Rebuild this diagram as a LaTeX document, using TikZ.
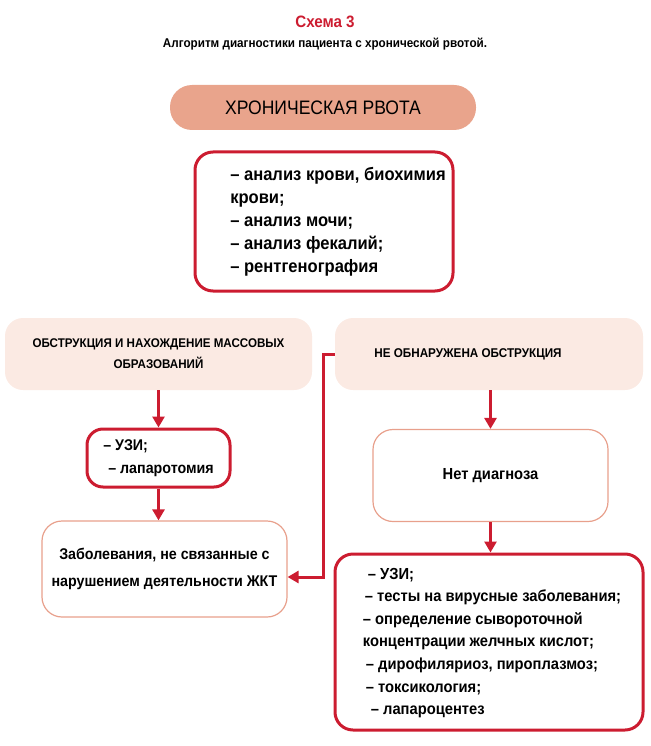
\documentclass[tikz,border=0pt]{standalone}
\usepackage{fontspec}
\setmainfont{Liberation Sans}[FakeStretch=0.92]
\newfontfamily\widefont{Liberation Sans}[FakeStretch=0.9]
\usetikzlibrary{arrows.meta}
\definecolor{redc}{RGB}{204,28,48}
\definecolor{salmon}{RGB}{233,164,140}
\definecolor{pinkl}{RGB}{251,234,227}
\definecolor{thinb}{RGB}{232,160,140}
\tikzset{
  redbox/.style={draw=redc, line width=3pt, rounded corners=18pt, fill=white, inner sep=0pt},
  lightbox/.style={fill=pinkl, rounded corners=18pt, inner sep=0pt},
  thinbox/.style={draw=thinb, line width=1.2pt, rounded corners=20pt, fill=white, inner sep=0pt},
  arr/.style={draw=redc, line width=3pt, -{Triangle[length=11pt,width=12pt]}},
}
\begin{document}
\begin{tikzpicture}[x=1pt,y=-1pt,font=\bfseries]
\useasboundingbox (0,0) rectangle (650,746);
% titles
\node[text=redc, font=\bfseries\fontsize{16.5}{19}\selectfont] (t1) at (325,22) {Схема 3};
\node[font=\bfseries\fontsize{12.7}{15}\selectfont] (t2) at (325,44) {Алгоритм диагностики пациента с хронической рвотой.};
% top
\node[fill=salmon, rounded corners=22pt, minimum width=306pt, minimum height=45pt, inner sep=0pt,
      font=\widefont\fontsize{19.5}{22}\selectfont] (top) at (323,107.5) {ХРОНИЧЕСКАЯ РВОТА};
\node[redbox, minimum width=258pt, minimum height=139pt,
      label={[xshift=14pt, align=left, font=\bfseries\fontsize{18}{23}\selectfont]center:{– анализ крови, биохимия\\крови;\\– анализ мочи;\\– анализ фекалий;\\– рентгенография}}] (tests) at (324,221.5) {};
% second row
\node[lightbox, minimum width=307pt, minimum height=72pt, align=center,
      font=\bfseries\fontsize{12.6}{21}\selectfont] (lo) at (158.5,354) {ОБСТРУКЦИЯ И НАХОЖДЕНИЕ МАССОВЫХ\\ОБРАЗОВАНИЙ};
\node[lightbox, minimum width=308pt, minimum height=72pt,
      label={[xshift=-21pt, font=\bfseries\fontsize{12.7}{15}\selectfont]center:НЕ ОБНАРУЖЕНА ОБСТРУКЦИЯ}] (ro) at (489,354) {};
% left column
\node[redbox, rounded corners=16pt, minimum width=143pt, minimum height=58pt,
      label={[align=left, font=\bfseries\fontsize{15.5}{23}\selectfont]center:{– УЗИ;\\\hspace{5pt}– лапаротомия}}] (lr) at (158.5,458) {};
\node[thinbox, minimum width=245pt, minimum height=96pt, align=center,
      font=\bfseries\fontsize{15.5}{27}\selectfont] (lt) at (164.5,569) {Заболевания, не связанные с\\нарушением деятельности ЖКТ};
% right column
\node[thinbox, minimum width=235pt, minimum height=92pt,
      font=\bfseries\fontsize{16}{18}\selectfont] (nd) at (490.5,475.5) {Нет диагноза};
\node[redbox, minimum width=308pt, minimum height=176pt,
      label={[xshift=3pt, yshift=-1pt, align=left, font=\bfseries\fontsize{16}{22.6}\selectfont]center:{\hspace{5pt}– УЗИ;\\\hspace{2pt}– тесты на вирусные заболевания;\\– определение сывороточной\\концентрации желчных кислот;\\\hspace{3pt}– дирофиляриоз, пироплазмоз;\\\hspace{3pt}– токсикология;\\\hspace{8pt}– лапароцентез}}] (br) at (489,642) {};
% arrows
\draw[arr] (lr.north |- lo.south) -- (lr.north);
\draw[arr] (lr.south) -- (lr.south |- lt.north);
\draw[arr] (nd.north |- ro.south) -- (nd.north);
\draw[arr] (nd.south) -- (nd.south |- br.north);
\draw[arr] (ro.west) -- ++(-11pt,0) |- ([yshift=-8pt]lt.east);
\end{tikzpicture}
\end{document}
